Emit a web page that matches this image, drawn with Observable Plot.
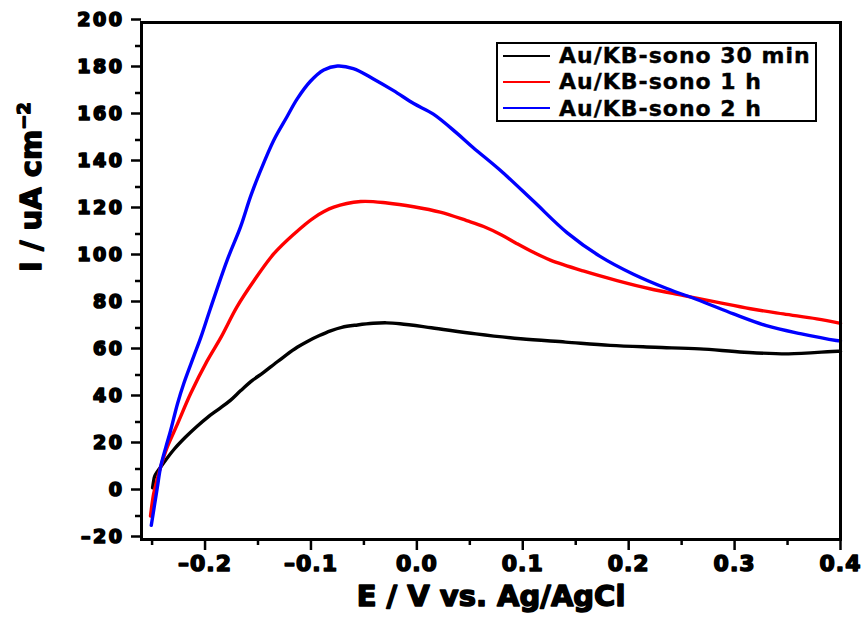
<!DOCTYPE html>
<html>
<head>
<meta charset="utf-8">
<script src="https://cdn.jsdelivr.net/npm/d3@7"></script>
<script src="https://cdn.jsdelivr.net/npm/@observablehq/plot@0.6"></script>
<style>
  body { margin: 0; background: #fff; }
  #wrap { position: relative; width: 862px; height: 620px; overflow: hidden; }
  #wrap svg { display: block; }
  #wrap svg g[aria-label="x-axis tick label"],
  #wrap svg g[aria-label="x-axis tick label"] text {
    font-family: "DejaVu Sans", sans-serif !important; font-weight: bold !important; font-size: 22px !important;
    stroke: #000 !important; stroke-width: 1.5px !important; letter-spacing: 1px !important;
  }
  #wrap svg g[aria-label="y-axis tick label"],
  #wrap svg g[aria-label="y-axis tick label"] text {
    font-family: "DejaVu Sans", sans-serif !important; font-weight: bold !important; font-size: 19px !important;
    stroke: #000 !important; stroke-width: 1.7px !important; letter-spacing: 2.5px !important;
  }
  .legend {
    position: absolute; left: 496px; top: 42px; width: 321px; height: 80px;
    box-sizing: border-box; border: 2px solid #000; background: #fff;
    font-family: "DejaVu Sans", sans-serif; font-weight: bold; font-size: 22px;
    letter-spacing: 1px; color: #000; -webkit-text-stroke: 0.4px #000;
  }
  .legend .row { position: absolute; left: 0; height: 26px; display: flex; align-items: center; white-space: nowrap; }
  .legend .swatch { width: 47px; height: 2px; margin-left: 5px; margin-right: 9px; }
</style>
</head>
<body>
<div id="wrap"></div>
<script>
// ---- data ----
const seriesNames = ["Au/KB-sono 30 min", "Au/KB-sono 1 h", "Au/KB-sono 2 h"];
const seriesColors = ["#000000", "#ff0000", "#0000ff"];

const blackE = [-0.2495, -0.2485, -0.2475, -0.2397, -0.2290, -0.2186, -0.2080, -0.1976, -0.1870, -0.1764, -0.1660, -0.1553, -0.1450, -0.1342, -0.1235, -0.1130, -0.1025, -0.0920, -0.0815, -0.0709, -0.0560, -0.0412, -0.0285, -0.0159, 0.0137, 0.0558, 0.0980, 0.1404, 0.1826, 0.2248, 0.2670, 0.3090, 0.3510, 0.3980, 0.4000];
const blackI = [2, 5, 7, 12.2, 18.5, 23.5, 28, 32, 35.5, 39.1, 43.5, 47.7, 51, 54.8, 58.5, 61.8, 64.5, 66.8, 68.8, 70.3, 71.3, 72, 72.2, 71.8, 70.1, 67.5, 65.4, 64, 62.6, 61.8, 61.1, 59.7, 59, 60.1, 60];

const redE = [-0.2515, -0.2485, -0.2455, -0.2420, -0.2357, -0.2260, -0.2137, -0.1980, -0.1850, -0.1700, -0.1540, -0.1350, -0.1160, -0.0970, -0.0785, -0.0530, -0.0280, -0.0030, 0.0220, 0.0470, 0.0630, 0.0800, 0.0945, 0.1100, 0.1260, 0.1570, 0.1890, 0.2200, 0.2520, 0.2830, 0.3150, 0.3460, 0.3775, 0.4000];
const redI = [-10, -0.5, 5, 10.8, 19.3, 29.2, 42, 56, 66, 78.9, 90, 101.6, 110, 117, 121.4, 123.8, 123.2, 121.6, 119.3, 115.7, 113.2, 109.6, 105.9, 102.2, 98.9, 94.3, 90.2, 86.7, 83.8, 81, 78.2, 76, 73.9, 72];

const blueE = [-0.2508, -0.2480, -0.2450, -0.2420, -0.2370, -0.2325, -0.2260, -0.2200, -0.2106, -0.2040, -0.1950, -0.1790, -0.1665, -0.1570, -0.1480, -0.1350, -0.1225, -0.1130, -0.1005, -0.0880, -0.0750, -0.0600, -0.0410, -0.0220, -0.0030, 0.0156, 0.0380, 0.0530, 0.0790, 0.1100, 0.1420, 0.1730, 0.2040, 0.2360, 0.2670, 0.2990, 0.3300, 0.3620, 0.3960, 0.4000];
const blueI = [-14, -6.2, 2.3, 10.8, 19.3, 26.4, 37.8, 46.5, 58, 66, 78.2, 99, 113, 126, 136.5, 150, 160, 167.5, 175, 179.8, 181.5, 180.4, 176, 171, 165.5, 161, 152.8, 146.8, 137, 124, 110.5, 100.5, 93, 86.8, 81.7, 76, 71, 67.6, 64.7, 64.5];

const xMajorTicks = [-0.2, -0.1, 0.0, 0.1, 0.2, 0.3, 0.4];
const xMinorTicks = [-0.25, -0.15, -0.05, 0.05, 0.15, 0.25, 0.35];
const yMajorTicks = [-20, 0, 20, 40, 60, 80, 100, 120, 140, 160, 180, 200];
const yMinorTicks = [-10, 10, 30, 50, 70, 90, 110, 130, 150, 170, 190];
const xTitle = "E / V vs. Ag/AgCl";
const yTitle = "I / uA cm";
const yTitleSup = "\u2212" + "2";

// ---- build table ----
const seriesE = [blackE, redE, blueE];
const seriesI = [blackI, redI, blueI];
const rows = [];
seriesNames.forEach((name, k) => {
  seriesE[k].forEach((e, i) => rows.push({series: name, E: e, I: seriesI[k][i]}));
});

const fmtX = d => d3.format(".1f")(d).replace("\u2212", "\u2013").replace("-", "\u2013");
const fmtY = d => String(d).replace("-", "\u2013");

const chart = Plot.plot({
  width: 862,
  height: 620,
  marginLeft: 141,
  marginRight: 22,
  marginTop: 22,
  marginBottom: 81,
  style: {background: "white", fontFamily: "DejaVu Sans, sans-serif", color: "black", overflow: "visible"},
  x: {domain: [-0.26, 0.4]},
  y: {domain: [-20, 200]},
  color: {domain: seriesNames, range: seriesColors},
  marks: [
    Plot.axisX(xMinorTicks, {tickSize: 6, tickFormat: () => "", strokeWidth: 2.5, label: null}),
    Plot.axisX(xMajorTicks, {tickSize: 11, tickPadding: 5, tickFormat: fmtX, strokeWidth: 2.5, label: null,
      fontSize: 22, fontWeight: "bold", textStroke: "black", textStrokeWidth: 1.5}),
    Plot.axisY(yMinorTicks, {tickSize: 6, tickFormat: () => "", strokeWidth: 2.5, label: null}),
    Plot.axisY(yMajorTicks, {tickSize: 10, tickPadding: 7, tickFormat: fmtY, strokeWidth: 2.5, dy: -3, label: null,
      fontSize: 19, fontWeight: "bold", textStroke: "black", textStrokeWidth: 1.7}),
    Plot.line(rows, {x: "E", y: "I", z: "series", stroke: "series", strokeWidth: 3.4, curve: "catmull-rom"}),
    Plot.frame({stroke: "black", strokeWidth: 3}),
    Plot.text([xTitle], {frameAnchor: "bottom", dy: 66, fontSize: 29, fontWeight: "bold", fill: "black", stroke: "black", strokeWidth: 1.5}),
    Plot.text([yTitle], {frameAnchor: "left", dx: -110, dy: -9, rotate: -90, fontSize: 29, fontWeight: "bold", fill: "black", stroke: "black", strokeWidth: 1.5})
  ]
});

document.getElementById("wrap").appendChild(chart);

// superscript on the y title
d3.select(chart).selectAll("text").filter(function() { return this.textContent === yTitle; })
  .append("tspan").attr("dy", "-0.6em").attr("font-size", 18).text(yTitleSup);

// legend
const legend = document.createElement("div");
legend.className = "legend";
seriesNames.forEach((name, k) => {
  const row = document.createElement("div");
  row.className = "row";
  row.style.top = (-1.5 + k * 26.3) + "px";
  const sw = document.createElement("div");
  sw.className = "swatch";
  sw.style.background = seriesColors[k];
  const tx = document.createElement("span");
  tx.textContent = name;
  row.appendChild(sw);
  row.appendChild(tx);
  legend.appendChild(row);
});
document.getElementById("wrap").appendChild(legend);
</script>
</body>
</html>
